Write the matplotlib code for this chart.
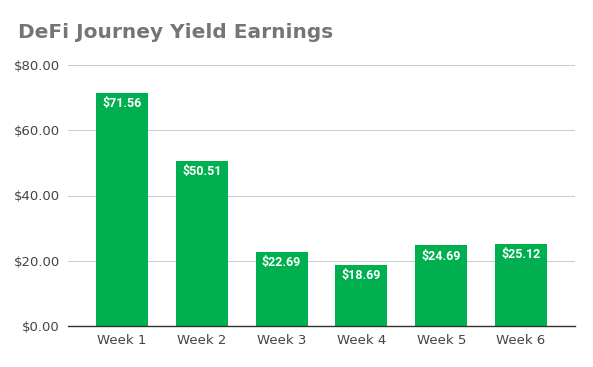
import matplotlib
matplotlib.use("Agg")
import matplotlib.pyplot as plt
import numpy as np

weeks = ["Week 1", "Week 2", "Week 3", "Week 4", "Week 5", "Week 6"]
earnings = [71.56, 50.51, 22.69, 18.69, 24.69, 25.12]
yticks = [0, 20, 40, 60, 80]

W, H = 593, 367
fig = plt.figure(figsize=(W / 100, H / 100), dpi=100)
# axes box in pixel coords: left 68, right 575, y=0 at 326, y=80 at 65
ax = fig.add_axes([68 / W, 1 - 326 / H, (575 - 68) / W, (326 - 65) / H])

x = np.arange(len(weeks))
bars = ax.bar(x, earnings, width=0.65, color="#00B050", zorder=2)
for b, v in zip(bars, earnings):
    ax.text(b.get_x() + b.get_width() / 2, v - 1.3, f"${v:.2f}",
            ha="center", va="top", color="white", fontsize=9,
            fontweight="bold", family="Roboto", zorder=3)

ax.set_xlim(-0.677, 5.677)
ax.set_ylim(0, 80)
ax.set_yticks(yticks)
ax.set_yticklabels([f"${t:.2f}" for t in yticks])
ax.set_xticks(x)
ax.set_xticklabels(weeks)
ax.tick_params(axis="both", length=0, labelsize=9.5, colors="#444444")
ax.tick_params(axis="y", pad=6)
ax.tick_params(axis="x", pad=6)
ax.grid(axis="y", color="#cccccc", linewidth=0.8, zorder=0)
for s in ["top", "right", "left"]:
    ax.spines[s].set_visible(False)
ax.spines["bottom"].set_color("#333333")
ax.spines["bottom"].set_linewidth(1.0)
ax.spines["bottom"].set_zorder(3)

fig.text(18 / W, 1 - 32 / H, "DeFi Journey Yield Earnings", ha="left", va="center",
         fontsize=14.5, fontweight="bold", color="#757575", family="DejaVu Sans")

fig.savefig("out.png", dpi=100)
